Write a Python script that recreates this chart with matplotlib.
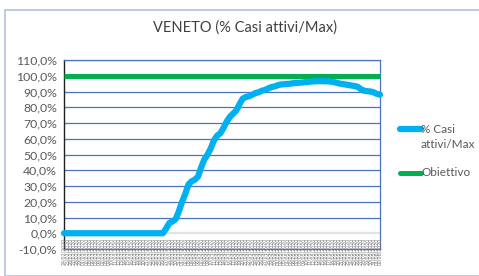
import matplotlib
matplotlib.use("Agg")
import matplotlib.pyplot as plt
from matplotlib.patches import Rectangle
import datetime as dt

plt.rcParams['font.family'] = ['Lato', 'DejaVu Sans']

title = "VENETO (% Casi attivi/Max)"
series_name = "% Casi attivi/Max"
target_name = "Obiettivo"

pct_active = [0]*32 + [
    3, 6.5, 7.5, 9, 14, 20, 25, 31, 33, 34,
    36, 42, 47, 50, 54, 59, 62, 63.5, 67, 71,
    74, 76, 78, 82, 85.5, 86.5, 87, 88, 89, 89.5,
    90.5, 91, 92, 92.8, 93.2, 94, 94.5, 94.6, 94.8, 95,
    95.3, 95.5, 95.6, 95.8, 96, 96.2, 96.4, 96.5, 96.6, 96.5,
    96.5, 96.4, 96.2, 95.8, 95.2, 94.8, 94.5, 94.2, 93.8, 93.5,
    93, 91.5, 90.5, 90.2, 90, 89.5, 88.5, 88]
target = [100]*len(pct_active)
start = dt.date(2020, 2, 24)
dates = [(start + dt.timedelta(days=i)).strftime("%d/%m/%Y") for i in range(len(pct_active))]
yticks = list(range(-10, 111, 10))

W, H = 479, 276
fig = plt.figure(figsize=(W/100, H/100), dpi=100)
fig.patches.append(Rectangle((5/W, 0), 1, 1 - 10/H, transform=fig.transFigure,
                             fill=False, edgecolor='#B4C0DA', linewidth=1.2))

ax = fig.add_axes([64/W, 1 - 249/H, (380-64)/W, (249-60)/H])
x = list(range(len(pct_active)))
ax.set_xlim(0, len(x)-1)
ax.set_ylim(-10, 110)
ax.set_yticks(yticks)
ax.set_yticklabels([f"{v},0%" for v in yticks], fontsize=8.8, color='#595959')
ax.tick_params(axis='y', length=0, pad=5)
ax.set_xticks([])
for v in yticks:
    if v == 0:
        ax.axhline(v, color='#E3E3E3', lw=1.6, zorder=1)
    else:
        ax.axhline(v, color='#4A72C0', lw=0.9, zorder=1)
for s in ['top', 'right', 'bottom']:
    ax.spines[s].set_color('#4A72C0')
    ax.spines[s].set_linewidth(0.9)
ax.spines['left'].set_color('#222222')
ax.spines['left'].set_linewidth(1.0)

ax.plot(x, target, color='#00B050', lw=3.6, solid_capstyle='butt', zorder=3, clip_on=False, label=target_name)
ax.plot(x, pct_active, color='#00B0F0', lw=4.5, solid_capstyle='round', zorder=4, clip_on=False, label=series_name)

for xi, d in zip(x, dates):
    ax.annotate(d, (xi, 0), xytext=(0, -3), textcoords='offset points', rotation=90,
                ha='center', va='top', fontsize=3.4, color='#7A7A7A', annotation_clip=False,
                family='DejaVu Sans')

fig.text(245/W, 1 - 28/H, title, ha='center', va='center', fontsize=10.5, color='#404040')

# legend
lx0, lx1 = 400/W, 421/W
fig.add_artist(plt.Line2D([lx0, lx1], [1 - 129/H]*2, color='#00B0F0', lw=4.5, solid_capstyle='round', transform=fig.transFigure))
fig.text(421/W, 1 - 129/H, "% Casi", ha='left', va='center', fontsize=8.5, color='#595959')
fig.text(421/W, 1 - 145/H, "attivi/Max", ha='left', va='center', fontsize=8.5, color='#595959')
fig.add_artist(plt.Line2D([lx0, lx1], [1 - 173/H]*2, color='#00B050', lw=3.6, solid_capstyle='round', transform=fig.transFigure))
fig.text(421/W, 1 - 173/H, "Obiettivo", ha='left', va='center', fontsize=8.5, color='#595959')

fig.savefig("out.png", dpi=100)
